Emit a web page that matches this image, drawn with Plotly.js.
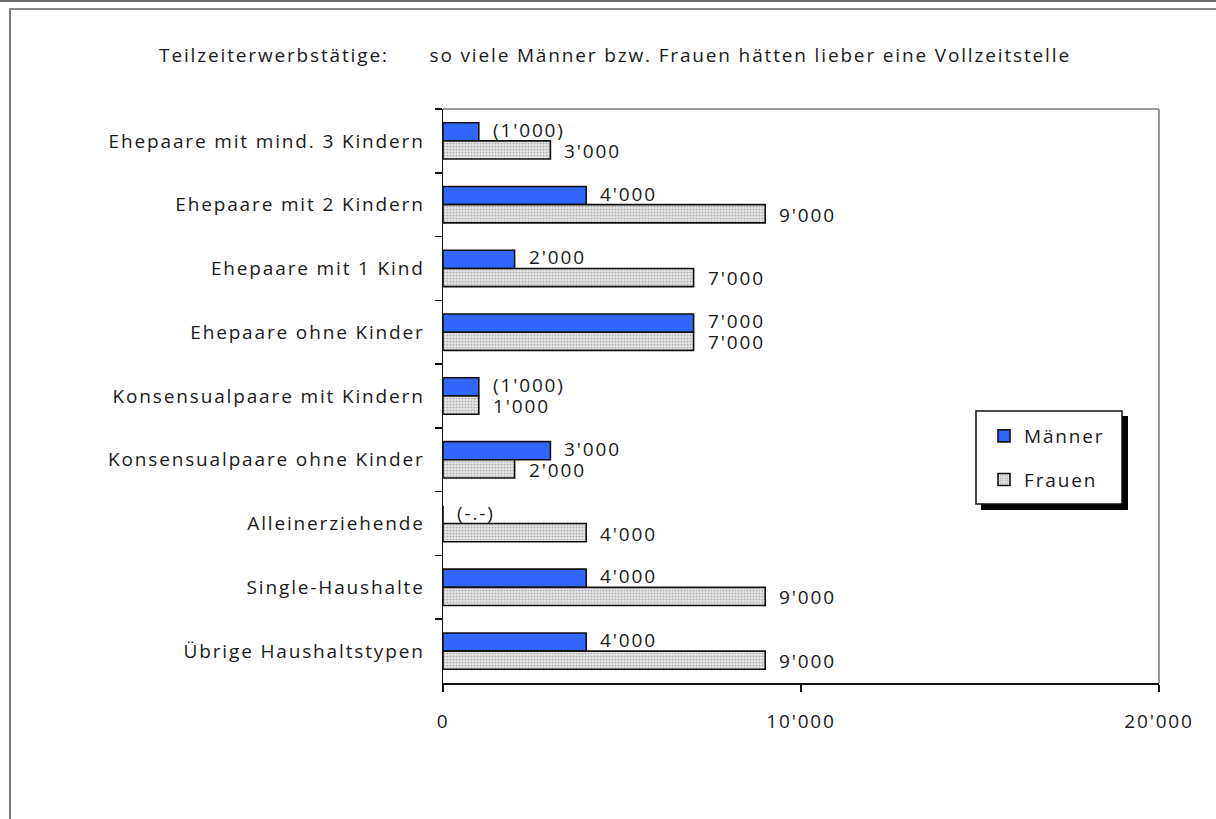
<!DOCTYPE html>
<html>
<head>
<meta charset="utf-8">
<script src="https://cdn.plot.ly/plotly-3.0.1.min.js"></script>
<style>
  html, body { margin: 0; padding: 0; background: #ffffff; }
  #chart { width: 1216px; height: 819px; }
  svg text { letter-spacing: 1.85px; }
  .topline { position: absolute; left: 0; top: 0; width: 1216px; height: 2px; background: #6e6e6e; pointer-events: none; }
  .frame { position: absolute; left: 9px; top: 8px; width: 1207px; height: 811px; border-top: 2px solid #8a8a8a; border-left: 2px solid #7a7a7a; box-sizing: border-box; pointer-events: none; }
</style>
</head>
<body>
<div id="chart"></div>
<div class="topline"></div>
<div class="frame"></div>
<script>
const categories = [
  "Ehepaare mit mind. 3 Kindern",
  "Ehepaare mit 2 Kindern",
  "Ehepaare mit 1 Kind",
  "Ehepaare ohne Kinder",
  "Konsensualpaare mit Kindern",
  "Konsensualpaare ohne Kinder",
  "Alleinerziehende",
  "Single-Haushalte",
  "Übrige Haushaltstypen"
];
const maenner = [1000, 4000, 2000, 7000, 1000, 3000, 0, 4000, 4000];
const frauen  = [3000, 9000, 7000, 7000, 1000, 2000, 4000, 9000, 9000];
const maennerLabels = ["(1'000)", "4'000", "2'000", "7'000", "(1'000)", "3'000", "(-.-)", "4'000", "4'000"];
const frauenLabels  = ["3'000", "9'000", "7'000", "7'000", "1'000", "2'000", "4'000", "9'000", "9'000"];
const xTickVals = [0, 10000, 20000];
const xTickText = ["0", "10'000", "20'000"];
const titleText = "Teilzeiterwerbstätige:\u00a0\u00a0\u00a0\u00a0\u00a0\u00a0so viele Männer bzw. Frauen hätten lieber eine Vollzeitstelle";

const FONT = "Open Sans, Noto Sans, sans-serif";
const TXT = "#1a1a1a";
const FS = 19;

const traces = [
  {
    type: "bar", orientation: "h", name: "Männer",
    y: categories, x: maenner,
    legendgroup: "m",
    marker: { color: "#3366ff", line: { color: "#111111", width: 1.6 } },
    hoverinfo: "skip"
  },
  {
    type: "bar", orientation: "h", name: "Frauen",
    y: categories, x: frauen,
    legendgroup: "f",
    marker: {
      color: "#dcdcdc",
      line: { color: "#111111", width: 1.6 },
      pattern: { shape: ".", fgcolor: "#a8a8a8", bgcolor: "#e2e2e2", size: 3, solidity: 0.25, fillmode: "replace" }
    },
    hoverinfo: "skip"
  }
];

const annotations = [];
categories.forEach((c, i) => {
  annotations.push({ x: maenner[i], y: c, xref: "x", yref: "y", text: maennerLabels[i], showarrow: false,
    xanchor: "left", yanchor: "middle", xshift: 12, yshift: 11, font: { family: FONT, size: FS, color: TXT } });
  annotations.push({ x: frauen[i], y: c, xref: "x", yref: "y", text: frauenLabels[i], showarrow: false,
    xanchor: "left", yanchor: "middle", xshift: 12, yshift: -10, font: { family: FONT, size: FS, color: TXT } });
});

const L = 443, R = 57, T = 109, B = 136;
const PW = 1216 - L - R, PH = 819 - T - B;
const px = v => (v - L) / PW;
const py = v => (819 - B - v) / PH;

const shapes = [
  { type: "line", xref: "paper", yref: "paper", x0: 0, x1: 1, y0: 1, y1: 1, line: { color: "#9a9a9a", width: 2 } },
  { type: "line", xref: "paper", yref: "paper", x0: 1, x1: 1, y0: 0, y1: 1, line: { color: "#9a9a9a", width: 2 } },
  { type: "rect", xref: "paper", yref: "paper", x0: px(981), x1: px(1128), y0: py(510), y1: py(416),
    fillcolor: "#000000", line: { width: 0 } },
  { type: "rect", xref: "paper", yref: "paper", x0: px(976), x1: px(1122), y0: py(504), y1: py(411),
    fillcolor: "#ffffff", line: { color: "#111111", width: 1.5 } }
];

const layout = {
  width: 1216, height: 819,
  margin: { l: L, r: R, t: T, b: B, pad: 0 },
  paper_bgcolor: "rgba(0,0,0,0)",
  plot_bgcolor: "#ffffff",
  font: { family: FONT, size: FS, color: TXT },
  title: { text: titleText, x: 615 / 1216, xanchor: "center", xref: "container",
    y: 1 - 55 / 819, yanchor: "middle", yref: "container", font: { family: FONT, size: FS, color: TXT } },
  barmode: "group",
  bargap: 0.43,
  bargroupgap: 0,
  showlegend: true,
  legend: {
    x: px(984), y: py(417), xanchor: "left", yanchor: "top",
    bgcolor: "rgba(0,0,0,0)", borderwidth: 0,
    traceorder: "grouped", tracegroupgap: 16,
    font: { family: FONT, size: FS, color: TXT },
    itemwidth: 30
  },
  xaxis: {
    range: [0, 20000], showgrid: false, zeroline: false,
    showline: true, linecolor: "#111111", linewidth: 1.5,
    ticks: "outside", ticklen: 7, tickcolor: "#111111", tickwidth: 1.5,
    tickmode: "array", tickvals: xTickVals, ticktext: xTickText,
    ticklabelstandoff: 14,
    tickfont: { family: FONT, size: FS, color: TXT },
    fixedrange: true
  },
  yaxis: {
    type: "category", autorange: "reversed", showgrid: false, zeroline: false,
    showline: true, linecolor: "#111111", linewidth: 1.5,
    ticks: "outside", ticklen: 7, tickcolor: "#111111", tickwidth: 1.5,
    tickson: "boundaries",
    ticklabelstandoff: 13,
    tickfont: { family: FONT, size: FS, color: TXT },
    fixedrange: true
  },
  shapes: shapes,
  annotations: annotations
};

Plotly.newPlot("chart", traces, layout, { displayModeBar: false, staticPlot: true });
</script>
</body>
</html>
